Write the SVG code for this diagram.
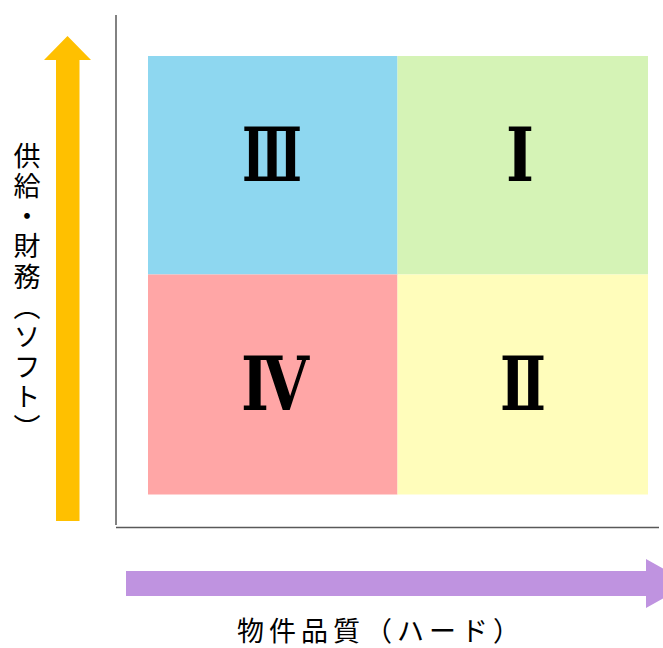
<svg xmlns="http://www.w3.org/2000/svg" width="663" height="648" viewBox="0 0 663 648">
<style>
.num{font-family:"DejaVu Serif","Liberation Serif",serif;font-weight:bold;font-size:74px;fill:#000;text-anchor:middle}
.lbl{font-family:"Noto Sans CJK JP",sans-serif;font-size:27px;fill:#000}
.axis{stroke:#595959;stroke-width:1.5;fill:none}
</style>
<rect width="663" height="648" fill="#fff"/>
<g id="quad-III"><rect x="148" y="56" width="249.5" height="218.5" fill="#8ED7F0"/><text class="num" x="272" y="181" textLength="60" lengthAdjust="spacingAndGlyphs">Ⅲ</text></g>
<g id="quad-I"><rect x="397.5" y="56" width="250.5" height="218.5" fill="#D5F3B6"/><text class="num" x="520" y="181" textLength="28" lengthAdjust="spacingAndGlyphs">Ⅰ</text></g>
<g id="quad-IV"><rect x="148" y="274.5" width="249.5" height="220" fill="#FFA6A6"/><text class="num" x="275" y="410" textLength="68" lengthAdjust="spacingAndGlyphs">Ⅳ</text></g>
<g id="quad-II"><rect x="397.5" y="274.5" width="250.5" height="220" fill="#FFFDBB"/><text class="num" x="523" y="410" textLength="46" lengthAdjust="spacingAndGlyphs">Ⅱ</text></g>
<g id="connectors">
<path class="axis" d="M116 15V525M116 527.5H659"/>
<polygon id="arrow-y" points="56,521 56,60 44,60 67.5,36 91,60 79.5,60 79.5,521" fill="#FFC000"/>
<polygon id="arrow-x" points="126,571 646,571 646,559 690,583.5 646,608 646,596 126,596" fill="#BF93E0"/>
</g>
<text id="label-y" class="lbl" x="27" y="142" style="writing-mode:vertical-rl" letter-spacing="3.2">供給・財務（ソフト）</text>
<text id="label-x" class="lbl" x="237" y="641" letter-spacing="5">物件品質（ハード）</text>
</svg>
